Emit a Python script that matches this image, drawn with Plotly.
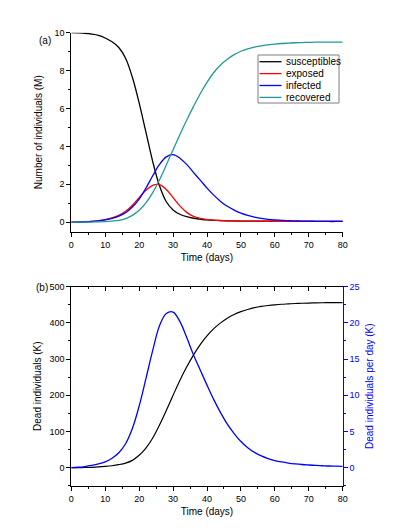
import plotly.graph_objects as go

# time grid (days) used by all curves
days = list(range(0, 81, 2))

# panel (a): millions of individuals
susceptibles = [10.0, 9.99, 9.97, 9.93, 9.86, 9.72, 9.52, 9.22, 8.65, 7.65, 6.3, 4.75, 3.2,
                1.92, 1.08, 0.65, 0.42, 0.29, 0.21, 0.16, 0.12, 0.1, 0.085, 0.075, 0.068,
                0.062, 0.058, 0.055, 0.053, 0.052, 0.051, 0.05, 0.05, 0.05, 0.05, 0.05,
                0.05, 0.05, 0.05, 0.05, 0.05]
exposed = [0.0, 0.01, 0.02, 0.04, 0.08, 0.14, 0.23, 0.37, 0.58, 0.9, 1.3, 1.68, 1.95,
           1.98, 1.73, 1.3, 0.86, 0.52, 0.31, 0.2, 0.14, 0.11, 0.09, 0.075, 0.065, 0.06,
           0.057, 0.055, 0.053, 0.052, 0.051, 0.05, 0.05, 0.05, 0.05, 0.05, 0.05, 0.05,
           0.05, 0.05, 0.05]
infected = [0.0, 0.01, 0.02, 0.04, 0.07, 0.12, 0.2, 0.32, 0.5, 0.8, 1.22, 1.8, 2.45, 3.05,
            3.45, 3.57, 3.38, 3.05, 2.63, 2.22, 1.8, 1.43, 1.1, 0.84, 0.64, 0.48, 0.36,
            0.27, 0.2, 0.15, 0.12, 0.1, 0.08, 0.07, 0.06, 0.055, 0.05, 0.045, 0.04, 0.04,
            0.04]
recovered = [0.0, 0.0, 0.005, 0.01, 0.02, 0.03, 0.06, 0.1, 0.19, 0.36, 0.63, 1.02, 1.56,
             2.24, 3.02, 3.83, 4.62, 5.38, 6.1, 6.78, 7.38, 7.9, 8.3, 8.6, 8.84, 9.02,
             9.15, 9.24, 9.31, 9.36, 9.4, 9.43, 9.45, 9.47, 9.48, 9.49, 9.5, 9.5, 9.5,
             9.5, 9.5]

# panel (b): thousands of dead
dead_total = [0, 0.1, 0.3, 0.8, 1.8, 3.2, 5.2, 8.2, 12.5, 20, 34, 54, 82, 118, 158, 200,
              241, 278, 311, 340, 364, 384, 400, 413, 423, 431, 437, 442, 445.5, 448, 450,
              451.5, 452.5, 453.5, 454.2, 454.8, 455.3, 455.6, 455.8, 456, 456]
dead_per_day = [0, 0.05, 0.15, 0.3, 0.5, 0.8, 1.3, 2.05, 3.3, 5.4, 8.5, 12.3, 16.2, 19.6,
                21.3, 21.5, 20.2, 18.0, 15.6, 13.5, 11.4, 9.4, 7.6, 6.0, 4.7, 3.6, 2.75,
                2.1, 1.62, 1.25, 0.98, 0.78, 0.63, 0.52, 0.43, 0.36, 0.3, 0.26, 0.22, 0.2,
                0.18]

names = ["susceptibles", "exposed", "infected", "recovered"]
colors = ["#000000", "#ff0000", "#0000ff", "#229999"]

# page body has an 8px margin, so the figure is drawn 8px in from the corner
OFF = 8
W, H = 399 - OFF, 532 - OFF
FONT = "Arial, Liberation Sans, sans-serif"


def px(x):
    return (x - OFF) / W


def py(y):
    return 1 - (y - OFF) / H


fig = go.Figure()
for name, vals, col in zip(names, [susceptibles, exposed, infected, recovered], colors):
    fig.add_trace(go.Scatter(x=days, y=vals, name=name, mode="lines",
                             line=dict(color=col, width=1.3, shape="spline", smoothing=1),
                             xaxis="x", yaxis="y", showlegend=False))

fig.add_trace(go.Scatter(x=days, y=dead_total, mode="lines", showlegend=False,
                         line=dict(color="black", width=1.2, shape="spline", smoothing=1),
                         xaxis="x2", yaxis="y2"))
fig.add_trace(go.Scatter(x=days, y=dead_per_day, mode="lines", showlegend=False,
                         line=dict(color="#0000ff", width=1.3, shape="spline", smoothing=1),
                         xaxis="x2", yaxis="y3"))
# empty trace so the top frame axis of panel (b) is drawn
fig.add_trace(go.Scatter(x=[], y=[], showlegend=False, xaxis="x3", yaxis="y2"))

xdom = [px(71.3), px(342.7)]
tick_font = dict(family=FONT, size=9, color="black")
title_font = dict(family=FONT, size=10, color="black")


def ax(**kw):
    base = dict(showline=True, linecolor="black", linewidth=1, ticks="outside",
                ticklen=4, tickwidth=1, tickcolor="black", showgrid=False,
                zeroline=False, tickfont=tick_font, title_font=title_font,
                automargin=False)
    base.update(kw)
    return base


fig.update_layout(
    width=W, height=H, margin=dict(l=0, r=0, t=0, b=0, autoexpand=False),
    paper_bgcolor="white", plot_bgcolor="white",
    font=dict(family=FONT, color="black"),
    xaxis=ax(domain=xdom, anchor="y", range=[0, 80], dtick=10, tick0=0,
             minor=dict(dtick=5, ticklen=2, ticks="outside", tickcolor="black"),
             title=dict(text="Time (days)", standoff=5)),
    yaxis=ax(domain=[py(231.7), py(32.7)], anchor="x", range=[-0.5, 10], dtick=2, tick0=0,
             minor=dict(dtick=1, ticklen=2, ticks="outside", tickcolor="black"),
             title=dict(text="Number of individuals (M)", standoff=9)),
    xaxis2=ax(domain=xdom, anchor="y2", range=[0, 80], dtick=10, tick0=0,
              minor=dict(dtick=5, ticklen=2, ticks="outside", tickcolor="black"),
              title=dict(text="Time (days)", standoff=5)),
    xaxis3=ax(overlaying="x2", anchor="y2", side="top", range=[0, 80], dtick=10, tick0=0,
              ticks="inside", showticklabels=False,
              minor=dict(dtick=5, ticklen=2, ticks="inside", tickcolor="black")),
    yaxis2=ax(domain=[py(485.7), py(286.7)], anchor="x2", range=[-50, 500], dtick=100, tick0=0,
              minor=dict(dtick=50, ticklen=2, ticks="outside", tickcolor="black"),
              title=dict(text="Dead individuals (K)", standoff=5)),
    yaxis3=ax(overlaying="y2", anchor="x2", side="right", range=[-2.5, 25], dtick=5, tick0=0,
              linecolor="#0000ff", tickcolor="#0000ff",
              tickfont=dict(family=FONT, size=9, color="#0000ff"),
              minor=dict(dtick=2.5, ticklen=2, ticks="outside", tickcolor="#0000ff"),
              title=dict(text="Dead individuals per day (K)", standoff=7,
                         font=dict(family=FONT, size=10, color="#0000ff"))),
)

# panel labels
for lab, x, y in [("(a)", 37, 33), ("(b)", 34, 287)]:
    fig.add_annotation(text=lab, x=px(x), y=py(y), xref="paper", yref="paper",
                       showarrow=False, font=dict(family=FONT, size=10, color="black"))

# legend box for panel (a)
fig.add_shape(type="rect", xref="paper", yref="paper",
              x0=px(258), x1=px(339), y0=py(103), y1=py(55),
              line=dict(color="#7f7f7f", width=1), fillcolor="white", layer="above")
for i, (name, col) in enumerate(zip(names, colors)):
    yc = 61.7 + i * 11.9
    fig.add_shape(type="line", xref="paper", yref="paper",
                  x0=px(259.5), x1=px(281.5), y0=py(yc), y1=py(yc),
                  line=dict(color=col, width=1.3), layer="above")
    fig.add_annotation(text=name, x=px(284), y=py(yc), xref="paper", yref="paper",
                       xanchor="left", yanchor="middle", showarrow=False,
                       font=dict(family=FONT, size=10, color="black"))

fig.write_html("out.html")
